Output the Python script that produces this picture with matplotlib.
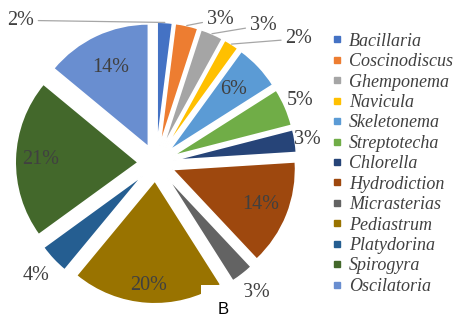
import numpy as np
import matplotlib.pyplot as plt
from matplotlib.lines import Line2D

species = ['Bacillaria', 'Coscinodiscus', 'Ghemponema', 'Navicula', 'Skeletonema',
           'Streptotecha', 'Chlorella', 'Hydrodiction', 'Micrasterias', 'Pediastrum',
           'Platydorina', 'Spirogyra', 'Oscilatoria']
percent = [2, 3, 3, 2, 6, 5, 3, 14, 3, 20, 4, 21, 14]
colors = ['#4472C4', '#ED7D31', '#A5A5A5', '#FFC000', '#5B9BD5', '#70AD47', '#264478',
          '#9E480E', '#636363', '#997300', '#255E91', '#43682B', '#698ED0']

# radial distance of each % label (in pie radii); None -> label with leader line
label_r = [None, None, None, None, 0.87, 1.28, 1.245, 0.92, 1.33, 1.0, 1.34, 0.94, 0.86]
leader_pos = {0: (-1.10, 1.16), 1: (0.52, 1.17), 2: (0.87, 1.12), 3: (1.16, 1.01)}

R_PX = 123.0  # pie radius in pixels
fig = plt.figure(figsize=(4.53, 3.18), dpi=100)
ax = fig.add_axes([0, 0, 1, 1])
wedges, _ = ax.pie(percent, colors=colors, startangle=90, counterclock=False,
                   explode=[0.145] * len(percent), radius=1,
                   wedgeprops=dict(linewidth=1.2, edgecolor='white'))
ax.set_xlim(-156 / R_PX, 297 / R_PX)
ax.set_ylim(-155 / R_PX, 163 / R_PX)
ax.axis('off')

pct_font = dict(family='Liberation Serif', size=14.5, color='#404040')
for i, (w, p) in enumerate(zip(wedges, percent)):
    ang = np.deg2rad((w.theta1 + w.theta2) / 2)
    d = np.array([np.cos(ang), np.sin(ang)])
    if label_r[i] is None:
        edge = np.array(w.center) + d
        ax.annotate('{}%'.format(p), xy=edge, xytext=leader_pos[i], ha='center', va='center',
                    arrowprops=dict(arrowstyle='-', color='#A6A6A6', lw=0.9, shrinkA=1, shrinkB=0),
                    **pct_font)
    else:
        x, y = label_r[i] * d
        ax.text(x, y, '{}%'.format(p), ha='center', va='center', **pct_font)

handles = [Line2D([], [], ls='', marker='s', ms=4, color=c) for c in colors]
fig.legend(handles, species, loc='upper left', bbox_to_anchor=(0.733, 0.897),
           frameon=False, prop=dict(family='Liberation Serif', style='italic', size=13),
           labelcolor='#404040', handlelength=0.5, handletextpad=0.45,
           labelspacing=0.19, borderaxespad=0, borderpad=0)

ax.text(67 / R_PX, -146 / R_PX, 'B', ha='center', va='center', fontsize=12,
        family='Liberation Sans', color='black', zorder=10,
        bbox=dict(boxstyle='square,pad=1.0', fc='white', ec='none'))

fig.savefig('out.png', dpi=100)
